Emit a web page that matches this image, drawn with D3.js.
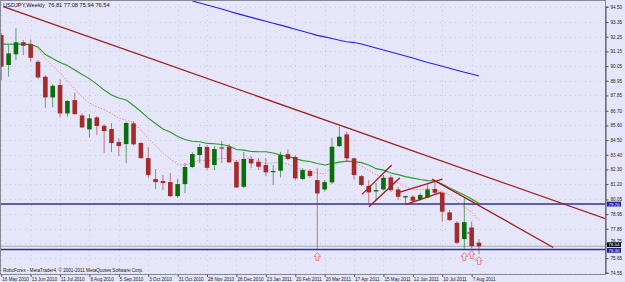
<!DOCTYPE html>
<html><head><meta charset="utf-8">
<script src="https://cdn.jsdelivr.net/npm/d3@7"></script>
<style>html,body{margin:0;padding:0;background:#E6E6FA;overflow:hidden}svg{display:block}</style>
</head><body><svg id="c" width="625" height="282"></svg>
<script>
// ---- data (weekly USDJPY, bar 0 = 16 May 2010) ----
const open  = [92.38,90.13,90.93,91.83,91.68,90.37,89.25,87.70,88.63,86.50,87.50,86.35,85.30,86.20,85.57,85.33,84.35,84.20,85.75,84.28,83.15,81.58,81.43,81.35,80.30,81.20,82.48,83.38,83.98,82.63,83.95,84.00,82.87,81.00,83.08,82.87,82.63,82.10,82.20,83.45,83.23,81.58,82.18,81.50,80.80,81.33,84.05,84.93,83.13,81.80,81.07,80.65,80.80,81.70,80.80,80.20,80.25,80.05,80.20,80.83,80.55,79.08,78.30,77.08,77.95,76.81];
const high  = [92.53,91.63,92.88,92.00,92.05,90.50,89.38,88.70,89.08,87.50,88.05,86.50,86.45,86.30,85.70,85.78,84.65,85.87,85.90,84.35,83.98,82.33,81.88,82.03,81.58,82.78,83.60,84.20,84.13,84.05,84.45,84.20,83.00,83.62,83.30,83.15,83.15,82.63,83.62,83.80,83.38,82.40,82.33,82.40,81.50,84.67,85.50,85.13,83.20,81.88,81.50,81.30,81.88,81.88,81.00,80.35,80.38,80.53,81.25,81.38,80.63,79.25,78.43,80.13,78.38,77.08];
const low   = [89.00,89.25,90.50,90.88,90.37,89.08,86.92,86.95,86.20,86.25,86.38,85.40,84.70,84.88,83.55,83.60,83.30,82.78,84.10,83.08,81.65,80.83,80.75,80.23,80.15,80.53,82.40,82.78,82.25,82.25,82.78,82.78,80.90,80.90,82.40,82.25,81.80,81.13,81.70,83.00,81.50,81.50,81.65,76.25,80.63,81.20,83.98,82.95,81.55,81.05,79.75,80.00,80.75,80.60,80.00,79.63,79.85,79.93,80.15,80.45,78.38,78.43,76.70,76.25,76.40,75.94];
const close = [90.00,91.00,91.83,91.57,90.67,89.20,87.70,88.57,86.50,87.43,86.45,85.45,86.13,85.55,85.18,84.28,84.05,85.78,84.18,83.15,81.88,81.35,81.28,80.30,81.20,82.48,83.45,83.98,82.42,83.83,83.88,82.83,80.95,83.08,82.75,82.50,82.08,82.18,83.38,83.08,81.63,82.25,81.80,80.50,81.35,84.00,84.75,83.13,81.88,81.13,80.58,80.75,81.67,80.75,80.25,80.30,79.95,80.38,80.80,80.55,79.13,78.50,76.80,78.35,76.55,76.54];
const maGreen = [91.68,91.68,91.68,91.68,91.66,91.48,90.91,90.61,90.31,90.09,89.75,89.41,89.11,88.70,88.25,87.88,87.65,87.50,87.09,86.64,86.15,85.74,85.33,85.10,84.77,84.54,84.41,84.37,84.25,84.22,84.17,84.05,83.79,83.75,83.64,83.63,83.63,83.53,83.38,83.26,83.11,82.96,82.89,82.74,82.63,82.74,82.85,82.91,82.89,82.81,82.63,82.36,82.25,82.03,81.91,81.76,81.65,81.54,81.46,81.43,81.20,80.90,80.64,80.38,80.08,79.74];
const maPink = [91.75,91.75,91.75,91.75,91.74,91.33,90.61,90.05,89.53,88.93,88.33,87.73,87.28,86.98,86.79,86.49,86.15,86.00,85.82,85.25,84.65,84.09,83.53,83.08,82.70,82.63,82.85,83.00,82.96,83.00,83.15,83.08,82.96,83.08,83.15,82.93,82.74,82.78,82.85,82.70,82.44,82.29,82.18,82.03,81.95,82.48,82.85,82.96,82.89,82.55,82.25,81.91,81.73,81.54,81.28,81.01,80.83,80.79,80.86,80.79,80.63,80.38,79.93,79.48,79.10,78.50];
const maBlueFirstBar = 26;
const maBlue = [94.93,94.78,94.63,94.48,94.33,94.16,94.00,93.85,93.70,93.55,93.41,93.26,93.12,92.97,92.81,92.66,92.51,92.35,92.24,92.11,91.99,91.87,91.81,91.70,91.55,91.40,91.25,91.11,90.96,90.80,90.65,90.49,90.32,90.18,90.03,89.89,89.74,89.59,89.45,89.30];
const priceTicks = [94.50,93.35,92.25,91.15,90.05,88.95,87.85,86.70,85.60,84.50,83.40,82.30,81.20,80.05,78.95,77.85,76.75,75.65,74.55];
const dateLabels = ["16 May 2010","13 Jun 2010","11 Jul 2010","8 Aug 2010","5 Sep 2010","3 Oct 2010","31 Oct 2010","28 Nov 2010","26 Dec 2010","23 Jan 2011","20 Feb 2011","20 Mar 2011","17 Apr 2011","15 May 2011","12 Jun 2011","10 Jul 2011","7 Aug 2011"];
const dateLabelBars = [0,4,8,12,16,20,24,28,32,36,40,44,48,52,56,60,64];
const hLinePrices = [79.70, 76.30];
const bidPrice = 76.54;
const tlStartBar   = [0.28, 58.6, 49.08, 50.03, 54.25, 55.07];
const tlStartPrice = [94.50, 81.57, 80.43, 79.50, 80.60, 79.68];
const tlEndBar     = [82.4, 75.1, 53.12, 54.25, 60.03, 59.83];
const tlEndPrice   = [78.57, 76.45, 82.63, 81.67, 81.57, 80.58];
const arrowBars = [43, 63, 64, 65];
const titleText = "USDJPY,Weekly  76.81 77.08 75.94 76.54";
const footerText = "RoboForex - MetaTrader4, \u00A9 2001-2011 MetaQuotes Software Corp.";

// ---- drawing ----
const W = 625, H = 282, plotR = 605.5, plotB = 274.5;
const BG = "#E6E6FA", RED = "#A52A2A", GREEN = "#0A6E0A";
const svg = d3.select("#c");
const x = d3.scaleLinear().domain([0, 65]).range([1.25, 479]);
const y = d3.scaleLinear().domain([74.55, 94.50]).range([272.8, 6.7]);
const FONT = "Liberation Sans, Arial, sans-serif";

svg.append("rect").attr("width", W).attr("height", H).attr("fill", BG);
svg.append("clipPath").attr("id", "clip").append("rect")
  .attr("x", 0).attr("y", 0).attr("width", plotR).attr("height", plotB);
const g = svg.append("g").attr("clip-path", "url(#clip)");

// dotted grid
g.selectAll(".hg").data(priceTicks).join("line")
  .attr("x1", 0).attr("x2", plotR)
  .attr("y1", d => Math.round(y(d)) + 0.5).attr("y2", d => Math.round(y(d)) + 0.5)
  .attr("stroke", "#c4c4dc").attr("stroke-dasharray", "1,4").attr("stroke-width", 0.8);
g.selectAll(".vg").data(dateLabelBars).join("line")
  .attr("y1", 0).attr("y2", plotB)
  .attr("x1", d => Math.round(x(d)) + 0.5).attr("x2", d => Math.round(x(d)) + 0.5)
  .attr("stroke", "#c4c4dc").attr("stroke-dasharray", "1,4").attr("stroke-width", 0.8);

// horizontal lines
g.append("line").attr("x1", 0).attr("x2", plotR)
  .attr("y1", y(bidPrice)).attr("y2", y(bidPrice))
  .attr("stroke", "#a8a8b0").attr("stroke-width", 1);
g.selectAll(".hl").data(hLinePrices).join("line")
  .attr("x1", 0).attr("x2", plotR)
  .attr("y1", d => y(d)).attr("y2", d => y(d))
  .attr("stroke", "#2F2F9E").attr("stroke-width", 1.5);

// moving averages
const idx = d3.range(open.length);
const lineGen = d3.line().x(d => x(d[0])).y(d => y(d[1]));
g.append("path").attr("d", lineGen(maBlue.map((v, i) => [i + maBlueFirstBar, v])))
  .attr("fill", "none").attr("stroke", "#2222EE").attr("stroke-width", 1.1);
g.append("path").attr("d", lineGen(maPink.map((v, i) => [i, v])))
  .attr("fill", "none").attr("stroke", "#F08A8A").attr("stroke-width", 1)
  .attr("stroke-dasharray", "1.5,1.5");
g.append("path").attr("d", lineGen(maGreen.map((v, i) => [i, v])))
  .attr("fill", "none").attr("stroke", "#2A9A2A").attr("stroke-width", 1.1);

// candles
const col = i => close[i] >= open[i] ? GREEN : RED;
g.selectAll(".wick").data(idx).join("line")
  .attr("x1", i => x(i)).attr("x2", i => x(i))
  .attr("y1", i => y(high[i])).attr("y2", i => y(low[i]))
  .attr("stroke", col).attr("stroke-width", 1).attr("stroke-opacity", 0.6);
g.selectAll(".body").data(idx).join("rect")
  .attr("x", i => x(i) - 2.3).attr("width", 4.6)
  .attr("y", i => y(Math.max(open[i], close[i])))
  .attr("height", i => Math.max(1.2, Math.abs(y(open[i]) - y(close[i]))))
  .attr("fill", col);

// trend lines
g.selectAll(".tl").data(d3.range(tlStartBar.length)).join("line")
  .attr("x1", i => x(tlStartBar[i])).attr("y1", i => y(tlStartPrice[i]))
  .attr("x2", i => x(tlEndBar[i])).attr("y2", i => y(tlEndPrice[i]))
  .attr("stroke", "#A01C1C").attr("stroke-width", 1.3);

// small marker on bar 63
g.append("line").attr("x1", x(63) + 3).attr("x2", x(63) + 5.5)
  .attr("y1", y(77.53)).attr("y2", y(77.53)).attr("stroke", "#3a3ad0").attr("stroke-width", 1.2);

// arrows under lows
const arrowPath = "M0,0 L3.3,3.8 L1.4,3.8 L1.4,7.8 L-1.4,7.8 L-1.4,3.8 L-3.3,3.8 Z";
g.selectAll(".arr").data(arrowBars).join("path")
  .attr("d", arrowPath)
  .attr("transform", k => `translate(${x(k)},${y(low[k]) + 2.5})`)
  .attr("fill", BG).attr("stroke", "#EE6A6A").attr("stroke-width", 0.8);

// frame
svg.append("rect").attr("x", 0.5).attr("y", 0.5).attr("width", plotR - 0.5).attr("height", plotB - 0.5)
  .attr("fill", "none").attr("stroke", "#8a8a96").attr("stroke-width", 1);

// price axis
const yAxis = d3.axisRight(y).tickValues(priceTicks).tickFormat(d3.format(".2f")).tickSize(3).tickPadding(2);
const ya = svg.append("g").attr("transform", `translate(${plotR},0)`).call(yAxis);
ya.select(".domain").attr("stroke", "#555");
ya.selectAll(".tick line").attr("stroke", "#555");
ya.selectAll("text").attr("font-family", FONT).attr("font-size", 4.6).attr("fill", "#222")
  .attr("dy", d => d === 76.75 ? "-0.3em" : "0.32em");

// date axis
const xAxis = d3.axisBottom(x).tickValues(dateLabelBars).tickFormat((d, i) => dateLabels[i]).tickSize(2.5).tickPadding(1);
const xa = svg.append("g").attr("transform", `translate(0,${plotB})`).call(xAxis);
xa.select(".domain").remove();
xa.selectAll(".tick line").attr("stroke", "#555");
xa.selectAll("text").attr("text-anchor", "start").attr("dx", 0.5)
  .attr("font-family", FONT).attr("font-size", 4.6).attr("fill", "#222");

// price boxes
function priceBox(p, fill, shift) {
  const yy = y(p) + shift;
  svg.append("rect").attr("x", 607).attr("y", yy - 2.4).attr("width", 14).attr("height", 4.8).attr("fill", fill);
  svg.append("text").attr("x", 608.5).attr("y", yy + 1.6).text(d3.format(".2f")(p))
    .attr("font-family", FONT).attr("font-size", 4.4).attr("fill", "#fff");
}
priceBox(hLinePrices[0], "#20209A", 0);
priceBox(bidPrice, "#111", -1.6);
priceBox(hLinePrices[1], "#20209A", 0.9);

// title & footer
svg.append("text").attr("x", 3).attr("y", 7).text(titleText)
  .style("white-space", "pre")
  .attr("font-family", FONT).attr("font-size", 5.7).attr("fill", "#111");
svg.append("text").attr("x", 3).attr("y", 271.5).text(footerText)
  .attr("font-family", FONT).attr("font-size", 4.6).attr("fill", "#222");
</script></body></html>
